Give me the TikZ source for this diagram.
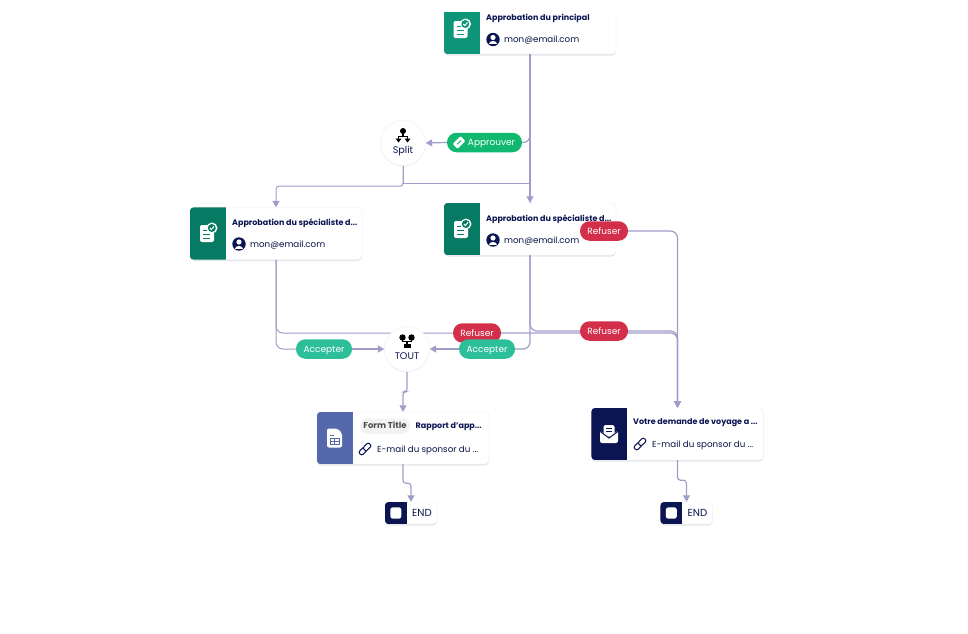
\documentclass[tikz,border=0pt]{standalone}
\usepackage{fontspec}
\setmainfont{Poppins}
\usepackage{xcolor}
\usetikzlibrary{arrows.meta, positioning, calc, shadows}
\definecolor{navy}{HTML}{0A1551}
\definecolor{wire}{HTML}{A09DCB}
\definecolor{rimcol}{HTML}{EEEEF4}
\definecolor{tealband}{HTML}{0F9678}
\definecolor{greenband}{HTML}{067A62}
\definecolor{formband}{HTML}{5468AB}
\definecolor{okgreen}{HTML}{10B96F}
\definecolor{okteal}{HTML}{2CBF9A}
\definecolor{nored}{HTML}{D32F4B}
\pgfdeclarelayer{wires}
\pgfsetlayers{wires,main}
\tikzset{
	flowline/.style={draw=wire, line width=1.2pt, rounded corners=7pt},
	flowarrow/.style={flowline, -{Triangle[length=6.5pt,width=7pt]}},
	jogline/.style={flowarrow, rounded corners=3pt},
	cardbox/.style={draw=rimcol, fill=white, rounded corners=4pt, minimum width=172pt, minimum height=52pt, inner sep=0pt,
		drop shadow={shadow xshift=0pt, shadow yshift=-1.5pt, opacity=0.10, fill=navy}},
	pill/.style={rounded corners=9.5pt, minimum height=19.5pt, inner sep=0pt, text=white, text height=8pt, text depth=2pt, font=\fontsize{9}{9}\selectfont},
	roundnode/.style={circle, draw=rimcol, fill=white, minimum size=45pt, inner sep=0pt,
		drop shadow={shadow xshift=0pt, shadow yshift=-1pt, opacity=0.06, fill=navy}},
	roundtext/.style={inner sep=0pt, text=navy, font=\fontsize{9.6}{9.6}\selectfont},
	cardtitle/.style={anchor=west, inner sep=0pt, yshift=-1pt, text=navy, font=\fontsize{8}{8}\selectfont\bfseries},
	cardtext/.style={anchor=west, inner sep=0pt, yshift=-1pt, text=navy!85!black, font=\fontsize{8.7}{8.7}\selectfont},
	% small glyphs, all drawn around their own origin
	personicon/.pic={
		\fill[navy] (0,0) circle (6.7);
		\fill[white] (0,-2) circle (2.6);
		\fill[white] (-4.3,4.6) .. controls (-4.3,0.8) and (4.3,0.8) .. (4.3,4.6) -- cycle;
	},
	linkicon/.pic={
		\draw[navy, line width=1pt, rotate=45, rounded corners=2pt] (-7,-2.4) rectangle (1,2.4);
		\draw[navy, line width=1pt, rotate=45, rounded corners=2pt, fill=white] (-1,-2.4) rectangle (7,2.4);
	},
	approvalicon/.pic={
		\fill[white, rounded corners=2pt] (-8,-8) rectangle (6,9);
		\fill[white] (4,-5) circle (5.5);
		\fill[pic actions] (3.8,-5) circle (4);
		\draw[white, line width=1pt] (1.8,-5) -- (3.4,-3.4) -- (6,-6.6);
		\draw[pic actions, line width=1pt] (-5,-3) -- (-1,-3) (-5,1) -- (2,1) (-5,5) -- (2,5);
	},
	formicon/.pic={
		\fill[white, rounded corners=2pt] (-7.5,-9.5) -- (3,-9.5) -- (7.5,-5) -- (7.5,9.5) -- (-7.5,9.5) -- cycle;
		\fill[formband] (-4.5,-3.5) rectangle (-0.5,-2);
		\draw[formband, line width=1pt] (-4.5,0.5) rectangle (4.5,6.5) (0,0.5) -- (0,6.5) (-4.5,3.5) -- (4.5,3.5);
	},
	mailicon/.pic={
		\fill[white, rounded corners=1.5pt] (-5.5,-9) rectangle (5.5,2);
		\draw[navy, line width=1pt] (-3,-6) -- (3,-6) (-3,-3) -- (3,-3);
		\fill[white, rounded corners=2pt] (-9,-3.5) -- (0,3.5) -- (9,-3.5) -- (9,9) -- (-9,9) -- cycle;
		\draw[navy, line width=1pt] (-9.5,-3) -- (0,4) -- (9.5,-3);
	},
	spliticon/.pic={
		\fill[black] (0,-5) circle (3);
		\draw[black, line width=1.8pt] (0,-3) -- (0,0) (-4.5,3) -- (-4.5,0.4) -- (4.5,0.4) -- (4.5,3);
		\fill[black] (-7.5,2.5) -- (-1.5,2.5) -- (-4.5,6.5) -- cycle (1.5,2.5) -- (7.5,2.5) -- (4.5,6.5) -- cycle;
	},
	touticon/.pic={
		\fill[black] (-4.5,-4) circle (3.2) (4.5,-4) circle (3.2);
		\draw[black, line width=1.8pt] (-4.5,-3) -- (-4.5,0) -- (4.5,0) -- (4.5,-3) (0,0) -- (0,3);
		\fill[black] (-3.5,2.5) rectangle (3.5,6.5);
	},
	penicon/.pic={
		\fill[white, rotate=45, rounded corners=1pt] (-5.5,-3.5) rectangle (5.5,3.5);
		\draw[okgreen, line width=0.9pt, rotate=45] (-2.5,0) -- (3,0);
	},
}
% card with a coloured band on its left side: name, centre, colour
\newcommand{\flowcard}[3]{
	\node[cardbox] (#1) at (#2) {};
	\begin{scope}
		\clip[rounded corners=4pt] (#1.south west) rectangle (#1.north east);
		\fill[#3] (#1.south west) rectangle ([xshift=36pt]#1.north west);
	\end{scope}
}
% small closing block: name, centre
\newcommand{\closeblock}[2]{
	\node[cardbox, minimum width=52pt, minimum height=22pt, text=navy, text height=8pt, text depth=2pt, font=\fontsize{10.2}{10.2}\selectfont] (#1) at (#2) {\hspace*{22pt}END};
	\begin{scope}
		\clip[rounded corners=4pt] (#1.south west) rectangle (#1.north east);
		\fill[navy] (#1.south west) rectangle ([xshift=22pt]#1.north west);
	\end{scope}
	\fill[white, rounded corners=2.5pt] ([xshift=5.5pt,yshift=-5.5pt]#1.north west) rectangle ([xshift=16.5pt,yshift=5.5pt]#1.south west);
}

\begin{document}
\begin{tikzpicture}[x=1pt, y=-1pt]
	\useasboundingbox (0,0) rectangle (968,633);

	% top card runs off the visible area, so it is cut at y=12
	\begin{scope}
		\clip (300,12) rectangle (800,80);
		\flowcard{principal}{530,28}{tealband}
	\end{scope}
	\pic[tealband] at (461.5,29) {approvalicon};
	\node[cardtitle] (principaltitle) at (486,17) {Approbation du principal};
	\pic at (493,39.5) {personicon};
	\node[cardtext] (principalmail) at (504,39.5) {mon@email.com};

	\node[roundnode] (split) at (403,143) {};
	\pic at (403,136) {spliticon};
	\node[roundtext] (splittext) at (403,151.5) {Split};
	\node[pill, fill=okgreen, minimum width=75pt] (approve) at (484.5,142.5) {\hspace*{14pt}Approuver};
	\pic at (459,142.5) {penicon};

	\flowcard{speca}{276,233.5}{greenband}
	\pic[greenband] at (208,233) {approvalicon};
	\node[cardtitle] (specatitle) at (232,222) {Approbation du spécialiste d...};
	\pic at (239,244) {personicon};
	\node[cardtext] (specamail) at (250,244) {mon@email.com};

	\flowcard{specb}{530,229}{greenband}
	\pic[greenband] at (462,229) {approvalicon};
	\node[cardtitle] (specbtitle) at (486,218) {Approbation du spécialiste d...};
	\pic at (493,240) {personicon};
	\node[cardtext] (specbmail) at (504,240) {mon@email.com};

	\node[pill, fill=nored, minimum width=48pt] (refuseb) at (604,231) {Refuser};
	\node[pill, fill=nored, minimum width=48pt] (refusec) at (604,331) {Refuser};
	\node[roundnode] (tout) at (407,349) {};
	\pic at (407,341.5) {touticon};
	\node[roundtext] (touttext) at (407,356.5) {TOUT};
	\node[pill, fill=nored, minimum width=48pt] (refusea) at (477,333) {Refuser};
	\node[pill, fill=okteal, minimum width=56pt] (accepta) at (324,349) {Accepter};
	\node[pill, fill=okteal, minimum width=56pt] (acceptb) at (487,349) {Accepter};

	\flowcard{form}{403,438}{formband}
	\pic at (334.5,438) {formicon};
	\node[fill=black!5, rounded corners=7.5pt, minimum width=50pt, minimum height=15pt, inner sep=0pt, text=black!70, text height=7pt, text depth=1.5pt, font=\fontsize{8.5}{8.5}\selectfont\bfseries] (formchip) at (385,426) {Form Title};
	\node[cardtitle] (formtitle) at (415.5,426) {Rapport d'app...};
	\pic at (365,449) {linkicon};
	\node[cardtext] (formmail) at (377,449) {E-mail du sponsor du ...};

	\flowcard{voyage}{677.5,434}{navy}
	\pic at (609,434) {mailicon};
	\node[cardtitle] (voyagetitle) at (633,422) {Votre demande de voyage a ...};
	\pic at (640,444) {linkicon};
	\node[cardtext] (voyagemail) at (652,444) {E-mail du sponsor du ...};

	\closeblock{enda}{411,513}
	\closeblock{endb}{686.5,513}

	% all the wires sit under the nodes
	\begin{pgfonlayer}{wires}
		\draw[flowarrow] (principal.south) -- (specb.north);
		\draw[flowline] (principal.south) |- (approve.east);
		\draw[flowarrow] (approve.west) -- (split.east);
		\draw[flowarrow, line width=1pt, rounded corners=3pt] (split.south) -- ++(0,20.5) -| (speca.north);
		\draw[flowline, line width=1pt, rounded corners=0pt] (split.south) -- ++(0,18) -| (specb.north);
		\draw[flowline, line width=1pt] (speca.south) |- (accepta.west);
		\draw[flowline, line width=1pt] (speca.south) |- (refusea.west);
		\draw[flowarrow] (accepta.east) -- (tout.west);
		\draw[flowline] (specb.south) |- (acceptb.east);
		\draw[flowarrow] (acceptb.west) -- (tout.east);
		\draw[flowline] (specb.south) |- (refusec.west);
		\draw[flowarrow] (refuseb.center) -| (voyage.north);
		\draw[flowarrow] (refusec.east) -| (voyage.north);
		\draw[flowarrow] (refusea.east) -| (voyage.north);
		\draw[jogline] (tout.south) -- ++(0,20) -| (form.north);
		\draw[jogline] (form.south) -- ++(0,19) -| (enda.north);
		\draw[jogline] (voyage.south) -- ++(0,20) -| (endb.north);
	\end{pgfonlayer}
\end{tikzpicture}
\end{document}
